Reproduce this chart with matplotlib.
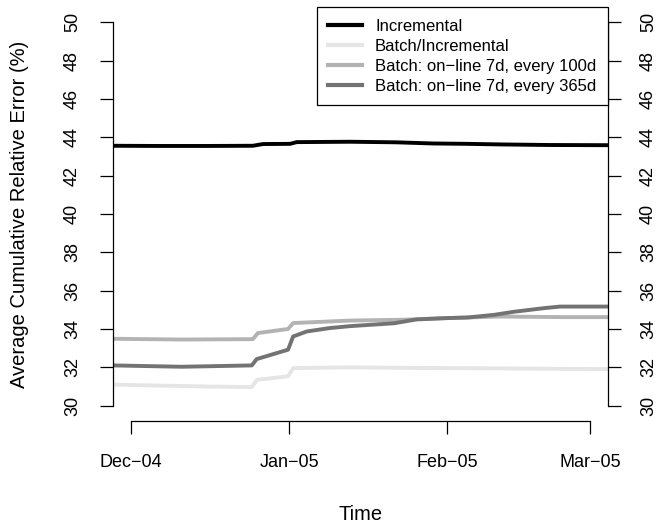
import matplotlib
matplotlib.use("Agg")
import matplotlib.pyplot as plt
import matplotlib.dates as mdates
import pandas as pd

plt.rcParams['font.family'] = ['Liberation Sans', 'DejaVu Sans']

# ---- data (days relative to 2004-12-01) ----
inc_days = [-3.5, 5, 15, 23.9, 25.9, 31.2, 32.5, 43, 52, 59.2, 66, 72.4, 82, 93.5]
inc_vals = [43.56, 43.55, 43.55, 43.56, 43.65, 43.66, 43.75, 43.77, 43.74, 43.68, 43.66, 43.63, 43.6, 43.59]

bi_days = [-3.5, 5, 15, 23.7, 24.7, 30.8, 31.8, 43, 55, 70, 85, 93.5]
bi_vals = [31.1, 31.05, 31.0, 30.97, 31.35, 31.53, 31.96, 32.0, 31.97, 31.95, 31.92, 31.91]

b100_days = [-3.5, 10, 23.9, 24.9, 30.8, 31.8, 43, 52.7, 62, 72.4, 85, 93.5]
b100_vals = [33.49, 33.45, 33.47, 33.79, 34.0, 34.31, 34.44, 34.48, 34.57, 34.65, 34.62, 34.62]

b365_days = [-3.5, 10, 23.7, 24.65, 30.8, 31.8, 34.45, 39, 43, 51.6, 56, 62, 66, 71.2, 75.1, 81, 84.1, 93.5]
b365_vals = [32.1, 32.03, 32.1, 32.43, 32.92, 33.61, 33.87, 34.05, 34.15, 34.3, 34.5, 34.57, 34.6, 34.74, 34.9, 35.09, 35.17, 35.17]

labels = ["Incremental", "Batch/Incremental",
          "Batch: on\u2212line 7d, every 100d", "Batch: on\u2212line 7d, every 365d"]
colors = ["#000000", "#e5e5e5", "#b3b3b3", "#737373"]

tick_dates = ["2004-12-01", "2005-01-01", "2005-02-01", "2005-03-01"]
tick_labels = ["Dec\u221204", "Jan\u221205", "Feb\u221205", "Mar\u221205"]
y_ticks = [30, 32, 34, 36, 38, 40, 42, 44, 46, 48, 50]

base = pd.Timestamp("2004-12-01")
def to_dates(days):
    return base + pd.to_timedelta(days, unit="D")

fig = plt.figure(figsize=(6.57, 5.28), dpi=100)
ax = fig.add_axes([113/657, 1-421/528, (608-113)/657, (421-7)/528])

series = [(inc_days, inc_vals), (bi_days, bi_vals), (b100_days, b100_vals), (b365_days, b365_vals)]
for (d, v), c, l in zip(series, colors, labels):
    ax.plot(to_dates(d), v, color=c, lw=2.8, label=l, solid_joinstyle='round')

ax.set_xlim(to_dates([-3.5])[0], to_dates([93.5])[0])
ax.set_ylim(29.2, 50.8)

ax.spines['top'].set_visible(False)
ax.spines['left'].set_bounds(30, 50)
ax.spines['right'].set_bounds(30, 50)
tds = pd.to_datetime(tick_dates)
ax.spines['bottom'].set_bounds(mdates.date2num(tds[0]), mdates.date2num(tds[-1]))
for s in ax.spines.values():
    s.set_linewidth(0.9)

ax.set_yticks(y_ticks)
ax.set_yticklabels([str(t) for t in y_ticks])
ax.set_xticks(tds)
ax.set_xticklabels(tick_labels)
ax.tick_params(axis='y', left=True, right=True, labelleft=True, labelright=True,
               length=9.5, width=0.9, pad=13.5, labelsize=13, labelrotation=90)
ax.tick_params(axis='x', length=9, width=0.9, pad=15, labelsize=13)
for t in ax.yaxis.get_major_ticks():
    t.label1.set_va('center')
    t.label2.set_va('center')

ax.set_ylabel("Average Cumulative Relative Error (%)", fontsize=14.5, labelpad=25)
ax.set_xlabel("Time", fontsize=14.5, labelpad=24)

leg = ax.legend(loc='upper right', bbox_to_anchor=(1.0, 1.0), borderaxespad=0,
                fontsize=12, frameon=True, fancybox=False, handlelength=2.0,
                handletextpad=0.8, labelspacing=0.3, borderpad=0.7)
leg.get_frame().set_edgecolor('black')
leg.get_frame().set_linewidth(0.9)
leg.get_frame().set_alpha(1)
for h in leg.get_lines():
    h.set_linewidth(3)

fig.savefig("out.png", dpi=100)
